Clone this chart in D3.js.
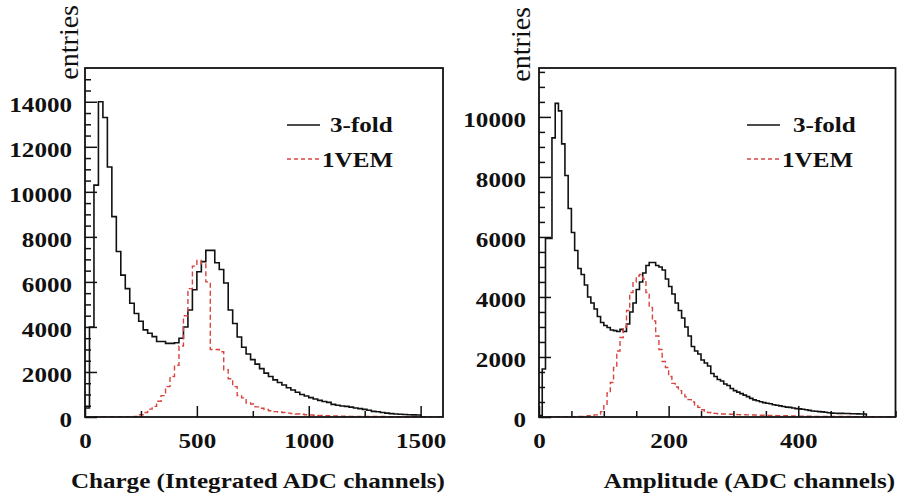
<!DOCTYPE html>
<html>
<head>
<meta charset="utf-8">
<script src="https://cdn.jsdelivr.net/npm/d3@7"></script>
<style>
  body { margin: 0; background: #fff; }
  text { font-family: "Liberation Serif", "Times New Roman", serif; fill: #111; }
</style>
</head>
<body>
<div id="chart"></div>
<script>
// ---- data ----
// left panel: charge, bins of 20 ADC counts starting at 0
var chargeBinWidth = 20;
var chargeThreeFold = [400, 4000, 10300, 14000, 13300, 11100, 8900, 7350, 6300, 5700,
  5050, 4600, 4250, 3870, 3720, 3570, 3350, 3350, 3270, 3270,
  3300, 3500, 4000, 4750, 5650, 6450, 6900, 7400, 7400, 6850,
  6550, 5950, 4750, 4150, 3550, 3100, 2800, 2550, 2350, 2150,
  1950, 1800, 1650, 1530, 1420, 1300, 1200, 1100, 1000, 930,
  860, 800, 740, 690, 650, 560, 520, 490, 470, 440,
  400, 370, 340, 300, 250, 235, 200, 170, 150, 135,
  120, 110, 100, 95, 90];
var chargeVem = [0, 0, 0, 0, 0, 0, 0, 0, 0, 0,
  5, 20, 100, 200, 350, 470, 700, 950, 1350, 1800,
  2300, 3150, 4500, 5700, 6700, 6950, 6800, 6000, 3000, 3000,
  2900, 2100, 1700, 1350, 950, 850, 620, 580, 450, 390,
  330, 280, 240, 220, 200, 170, 150, 130, 120, 100,
  90, 80, 70, 60, 55, 50, 45, 40, 35, 30,
  30, 25, 25, 20, 20, 20, 20, 15, 15, 15,
  15, 10, 10, 10, 10, 10, 5, 5, 5, 5];
var chargeYTicks = [0, 2000, 4000, 6000, 8000, 10000, 12000, 14000];
var chargeXTicks = [0, 500, 1000, 1500];

// right panel: amplitude, bins of 5 ADC channels starting at 0
var ampBinWidth = 5;
var ampThreeFold = [50, 1600, 5950, 5950, 9300, 10450, 10200, 9100, 8050, 6950,
  6150, 5550, 4950, 4750, 4400, 4000, 3800, 3600, 3350, 3150,
  3050, 2980, 2900, 2880, 2850, 2920, 2850, 3100, 3500, 3800,
  4250, 4500, 4800, 5050, 5150, 5150, 5050, 5000, 4900, 4600,
  4350, 4100, 3800, 3550, 3300, 3000, 2700, 2350, 2200, 2100,
  1900, 1800, 1700, 1450, 1350, 1250, 1200, 1100, 1050, 950,
  880, 830, 780, 730, 680, 620, 570, 540, 510, 480,
  460, 440, 410, 390, 370, 350, 330, 320, 300, 280,
  270, 260, 240, 220, 200, 190, 180, 170, 160, 140,
  130, 125, 120, 120, 115, 115, 110, 110, 105, 100,
  100];
var ampVem = [0, 0, 0, 0, 0, 0, 0, 0, 0, 0,
  5, 10, 15, 20, 30, 40, 50, 70, 100, 180,
  380, 800, 1150, 1650, 2200, 2650, 3000, 3550, 4150, 4500,
  4700, 4750, 4600, 4150, 3650, 3200, 2700, 2250, 1850, 1650,
  1350, 1120, 1000, 880, 750, 670, 580, 500, 400, 320,
  240, 190, 150, 130, 120, 110, 100, 100, 95, 90,
  85, 80, 75, 75, 70, 70, 65, 65, 60, 60,
  55, 50, 50, 45, 45, 40, 40, 35, 35, 30,
  30, 30, 25, 25, 25, 20, 20, 20, 20, 20,
  15, 15, 15, 15, 15, 15, 10, 10, 10, 10,
  10, 10, 10, 10, 5, 5, 5, 5, 5, 5];
var ampYTicks = [0, 2000, 4000, 6000, 8000, 10000];
var ampXTicks = [0, 200, 400];

var legendLabels = ["3-fold", "1VEM"];
var yTitle = "entries";
var chargeTitle = "Charge (Integrated ADC channels)";
var ampTitle = "Amplitude (ADC channels)";

// ---- drawing ----
var svg = d3.select("#chart")
  .append("svg")
    .attr("width", 897)
    .attr("height", 499);

// the source picture is a little wider than normal, so stretch the text to match
var textStretch = 1.14;
function stretch(sel) {
  sel.each(function() {
    var len = this.getComputedTextLength();
    d3.select(this)
      .attr("textLength", len * textStretch)
      .attr("lengthAdjust", "spacingAndGlyphs");
  });
}

// outline points of a ROOT style histogram
function histPoints(values, binWidth) {
  var pts = [[0, 0]];
  values.forEach(function(v, i) { pts.push([i * binWidth, v]); });
  var end = values.length * binWidth;
  pts.push([end, values[values.length - 1]]);
  pts.push([end, 0]);
  return pts;
}

function drawPanel(p) {
  var x = d3.scaleLinear().domain([0, p.xmax]).range([p.left, p.right]);
  var y = d3.scaleLinear().domain([0, p.ymax]).range([p.bottom, p.top]);

  var g = svg.append("g");

  g.append("clipPath")
    .attr("id", "clip" + p.id)
  .append("rect")
    .attr("x", p.left)
    .attr("y", p.top)
    .attr("width", p.right - p.left)
    .attr("height", p.bottom - p.top);

  var line = d3.line()
    .x(function(d) { return x(d[0]); })
    .y(function(d) { return y(d[1]); })
    .curve(d3.curveStepAfter);

  g.append("path")
    .attr("d", line(histPoints(p.main, p.binWidth)))
    .attr("clip-path", "url(#clip" + p.id + ")")
    .attr("fill", "none")
    .attr("stroke", "#111")
    .attr("stroke-width", 1.6);

  g.append("path")
    .attr("d", line(histPoints(p.vem, p.binWidth)))
    .attr("clip-path", "url(#clip" + p.id + ")")
    .attr("fill", "none")
    .attr("stroke", "#d8453f")
    .attr("stroke-width", 1.4)
    .attr("stroke-dasharray", "5,3");

  // frame
  g.append("rect")
    .attr("x", p.left)
    .attr("y", p.top)
    .attr("width", p.right - p.left)
    .attr("height", p.bottom - p.top)
    .attr("fill", "none")
    .attr("stroke", "#111")
    .attr("stroke-width", 1.8);

  // y axis, ticks pointing inside
  var yMinor = d3.range(0, p.ymax, 500).filter(function(d) { return p.yTicks.indexOf(d) < 0; });
  g.append("g")
    .attr("transform", "translate(" + p.left + ",0)")
    .call(d3.axisLeft(y).tickValues(yMinor).tickSizeInner(-6).tickSizeOuter(0).tickFormat(""));
  var yAx = g.append("g")
    .attr("transform", "translate(" + p.left + ",0)")
    .call(d3.axisLeft(y).tickValues(p.yTicks).tickSizeInner(-12).tickSizeOuter(0).tickPadding(13).tickFormat(d3.format("d")));
  yAx.selectAll("text").attr("dy", "0.45em");

  // x axis
  var xMinor = d3.range(0, p.xmax + 1, p.xMinorStep).filter(function(d) { return p.xTicks.indexOf(d) < 0; });
  g.append("g")
    .attr("transform", "translate(0," + p.bottom + ")")
    .call(d3.axisBottom(x).tickValues(xMinor).tickSizeInner(-6).tickSizeOuter(0).tickFormat(""));
  g.append("g")
    .attr("transform", "translate(0," + p.bottom + ")")
    .call(d3.axisBottom(x).tickValues(p.xTicks).tickSizeInner(-11).tickSizeOuter(0).tickPadding(15).tickFormat(d3.format("d")));

  g.selectAll(".domain").remove();
  g.selectAll(".tick line").attr("stroke", "#111").attr("stroke-width", 1.5);
  g.selectAll(".tick text")
    .attr("font-family", "Liberation Serif, Times New Roman, serif")
    .attr("font-size", 22)
    .attr("font-weight", "bold")
    .attr("fill", "#111")
    .call(stretch);

  // titles
  g.append("text")
    .attr("transform", "translate(" + p.yTitleX + "," + p.yTitleY + ") rotate(-90)")
    .attr("text-anchor", "end")
    .attr("font-size", 28)
    .text(yTitle);

  g.append("text")
    .attr("x", p.xTitleRight)
    .attr("y", 488)
    .attr("text-anchor", "end")
    .attr("font-size", 22)
    .attr("font-weight", "bold")
    .text(p.xTitle)
    .call(stretch);

  // legend
  var lg = g.append("g");
  lg.append("line")
    .attr("x1", p.legendX).attr("x2", p.legendX + 33)
    .attr("y1", 125).attr("y2", 125)
    .attr("stroke", "#111").attr("stroke-width", 1.6);
  lg.append("text")
    .attr("x", p.legendX + p.legendGap)
    .attr("y", 132)
    .attr("font-size", 22)
    .attr("font-weight", "bold")
    .text(legendLabels[0])
    .call(stretch);
  lg.append("line")
    .attr("x1", p.legendX).attr("x2", p.legendX + 33)
    .attr("y1", 159).attr("y2", 159)
    .attr("stroke", "#d8453f").attr("stroke-width", 1.4)
    .attr("stroke-dasharray", "4,3");
  lg.append("text")
    .attr("x", p.legendX + 35)
    .attr("y", 167)
    .attr("font-size", 22)
    .attr("font-weight", "bold")
    .text(legendLabels[1])
    .call(stretch);
}

drawPanel({
  id: "charge",
  left: 85, right: 443, top: 68, bottom: 417,
  xmax: 1600, ymax: 15500, xMinorStep: 250,
  binWidth: chargeBinWidth, main: chargeThreeFold, vem: chargeVem,
  yTicks: chargeYTicks, xTicks: chargeXTicks,
  yTitleX: 78, yTitleY: 5,
  xTitle: chargeTitle, xTitleRight: 445,
  legendX: 287, legendGap: 43
});

drawPanel({
  id: "amp",
  left: 539, right: 895.5, top: 68, bottom: 417,
  xmax: 550, ymax: 11630, xMinorStep: 50,
  binWidth: ampBinWidth, main: ampThreeFold, vem: ampVem,
  yTicks: ampYTicks, xTicks: ampXTicks,
  yTitleX: 530, yTitleY: 7,
  xTitle: ampTitle, xTitleRight: 895,
  legendX: 747, legendGap: 46
});
</script>
</body>
</html>
